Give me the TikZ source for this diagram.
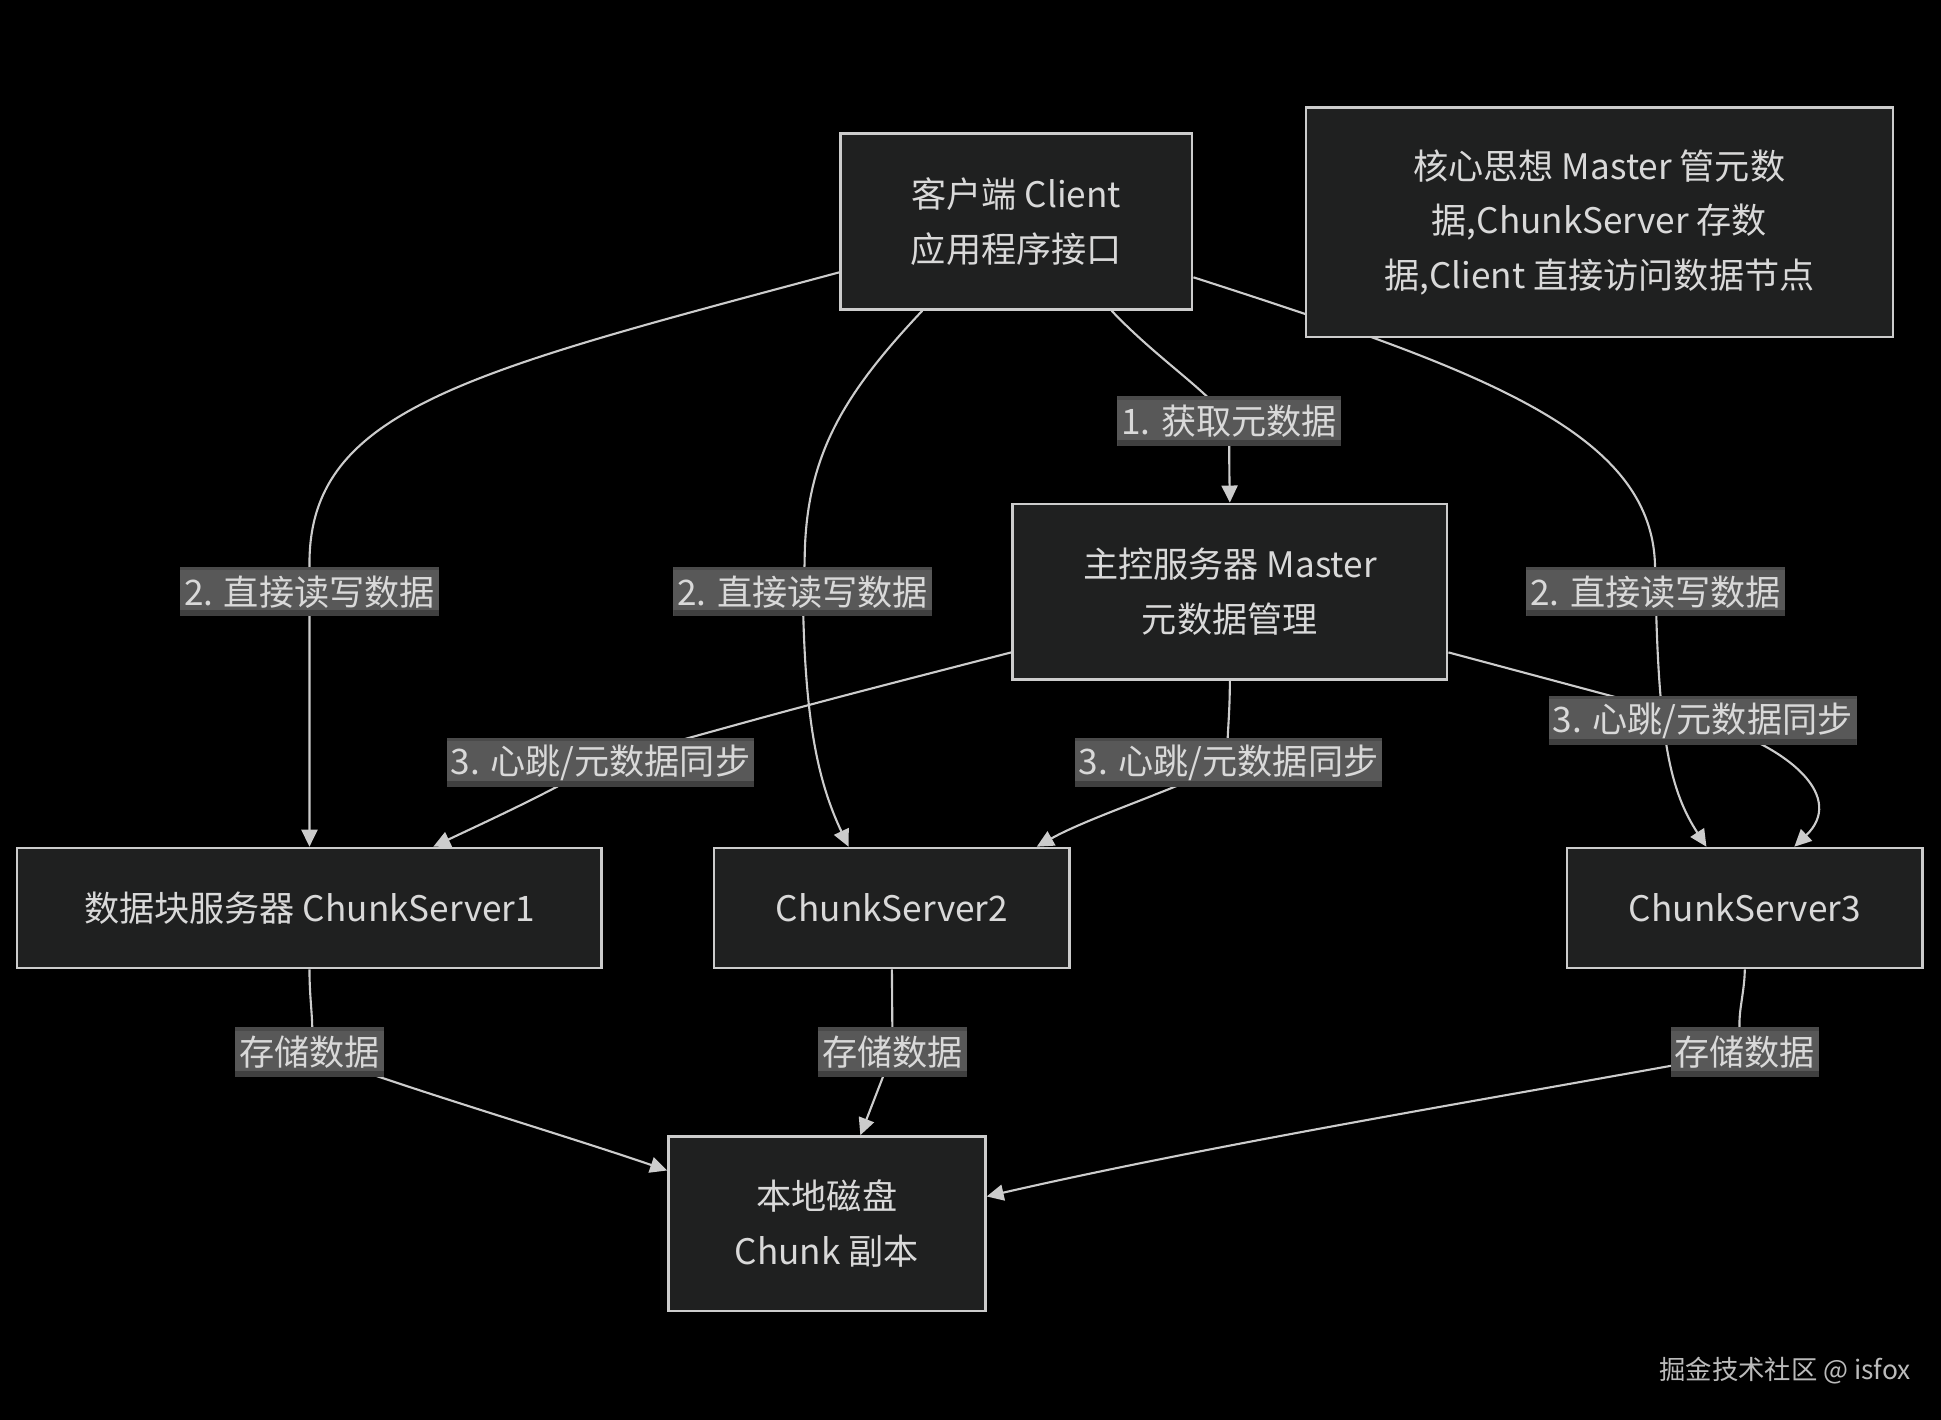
\documentclass[tikz,border=0pt]{standalone}
\usepackage{fontspec}
\setmainfont{Noto Sans CJK SC}
\usetikzlibrary{arrows.meta,calc}
\definecolor{bgcol}{HTML}{000000}
\definecolor{boxfill}{HTML}{1F2020}
\definecolor{linecol}{HTML}{CCCCCC}
\definecolor{txtcol}{HTML}{D9D9D9}
\definecolor{lblfill}{HTML}{585858}
\definecolor{lblband}{HTML}{404040}
\definecolor{markcol}{HTML}{BBBBBB}
\begin{document}
\begin{tikzpicture}[x=0.012379cm, y=-0.012379cm,
	every node/.style={text=txtcol, font=\fontsize{10}{15.5}\selectfont},
	box/.style={draw=linecol, fill=boxfill, line width=0.7pt, align=center, inner sep=0pt},
	lbl/.style={fill=lblfill, inner xsep=0.4mm, inner ysep=0pt, minimum height=0.495cm,
		path picture={\fill[lblband] (path picture bounding box.south west) rectangle ([yshift=0.6mm]path picture bounding box.south east);
			\fill[lblband!60!lblfill] (path picture bounding box.north west) rectangle ([yshift=-0.35mm]path picture bounding box.north east);}},
	arr/.style={draw=linecol, line width=0.6pt, -{Triangle[length=1.7mm,width=1.6mm]}}]
	%background
	\useasboundingbox (0,0) rectangle (1568,1147);
	\fill[bgcol] (0,0) rectangle (1568,1147);
	%nodes
	\node[box, minimum width=3.516cm, minimum height=1.758cm] (client) at (821,179) {客户端 Client\\应用程序接口};
	\node[box, minimum width=4.345cm, minimum height=1.758cm] (master) at (993.5,478) {主控服务器 Master\\元数据管理};
	\node[box, minimum width=5.843cm, minimum height=1.201cm] (cs1) at (250,733.5) {数据块服务器 ChunkServer1};
	\node[box, minimum width=3.553cm, minimum height=1.201cm] (cs2) at (720.5,733.5) {ChunkServer2};
	\node[box, minimum width=3.553cm, minimum height=1.201cm] (cs3) at (1409.5,733.5) {ChunkServer3};
	\node[box, minimum width=3.169cm, minimum height=1.745cm] (disk) at (668,988.5) {本地磁盘\\Chunk 副本};
	%label places
	\coordinate (l1) at (993,340);
	\coordinate (l2a) at (250,478);
	\coordinate (l2b) at (648.5,478);
	\coordinate (l2c) at (1337.5,478);
	\coordinate (l3a) at (485,616);
	\coordinate (l3b) at (992.5,616);
	\coordinate (l3c) at (1375.5,582);
	\coordinate (l4a) at (250,850);
	\coordinate (l4b) at (721,850);
	\coordinate (l4c) at (1409.5,850);
	%client edges
	\draw[arr] ($(client.south)+(77,0)$) .. controls (935,290) and (975,315) .. (l1) .. controls (993,375) .. (master.north);
	\draw[arr] ($(client.west)+(0,41)$) .. controls (380,300) and (250,330) .. (250,455) -- (l2a) -- (cs1.north);
	\draw[arr] ($(client.south)+(-76,0)$) .. controls (680,320) and (650,370) .. (650,455) -- (l2b) .. controls (650,580) and (660,630) .. ($(cs2.north)+(-35,0)$);
	\draw[arr] ($(client.east)+(0,45)$) .. controls (1200,300) and (1337,350) .. (1337,460) -- (l2c) .. controls (1340,600) and (1350,640) .. ($(cs3.north)+(-31,0)$);
	%master edges
	\draw[arr] ($(master.west)+(0,49)$) .. controls (650,570) .. (l3a) .. controls (445,640) and (390,665) .. ($(cs1.north)+(100,0)$);
	\draw[arr] (master.south) .. controls (993.5,585) and (990,600) .. (l3b) .. controls (950,638) and (880,660) .. ($(cs2.north)+(117,0)$);
	\draw[arr] ($(master.east)+(0,49)$) -- (l3c) .. controls (1450,605) and (1490,645) .. ($(cs3.north)+(40,0)$);
	%storage edges
	\draw[arr] (cs1.south) .. controls (250,815) and (255,830) .. (l4a) .. controls (330,880) and (450,915) .. ($(disk.west)+(0,-43)$);
	\draw[arr] (cs2.south) -- (l4b) -- ($(disk.north)+(27,0)$);
	\draw[arr] (cs3.south) .. controls (1409,810) and (1400,825) .. (l4c) .. controls (1250,880) and (1000,920) .. ($(disk.east)+(0,-22)$);
	%note over the client edge
	\node[box, minimum width=5.868cm, minimum height=2.290cm] (note) at (1292,179.5) {核心思想 Master 管元数\\据,ChunkServer 存数\\据,Client 直接访问数据节点};
	%edge labels
	\node[lbl] (t1) at (l1) {1. 获取元数据};
	\node[lbl] (t2a) at (l2a) {2. 直接读写数据};
	\node[lbl] (t2b) at (l2b) {2. 直接读写数据};
	\node[lbl] (t2c) at (l2c) {2. 直接读写数据};
	\node[lbl] (t3a) at (l3a) {3. 心跳/元数据同步};
	\node[lbl] (t3b) at (l3b) {3. 心跳/元数据同步};
	\node[lbl] (t3c) at (l3c) {3. 心跳/元数据同步};
	\node[lbl] (t4a) at (l4a) {存储数据};
	\node[lbl] (t4b) at (l4b) {存储数据};
	\node[lbl] (t4c) at (l4c) {存储数据};
	%watermark
	\node[text=markcol, font=\fontsize{7.5}{9}\selectfont] (mark) at (1442,1107) {掘金技术社区 @ isfox};
\end{tikzpicture}
\end{document}
